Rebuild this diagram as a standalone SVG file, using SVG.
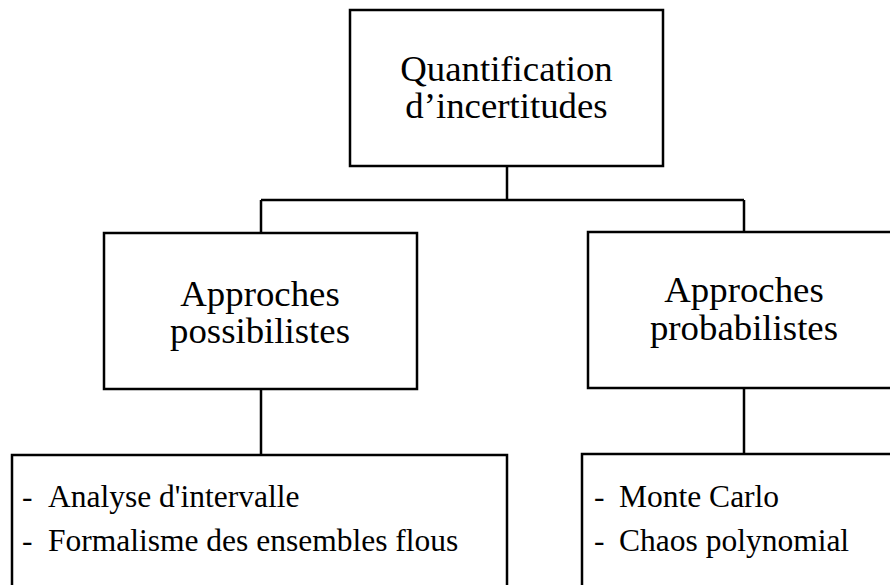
<svg xmlns="http://www.w3.org/2000/svg" width="890" height="585" viewBox="0 0 890 585">
<style>
.box{fill:#fff;stroke:#000;stroke-width:2.5}
.con{fill:none;stroke:#000;stroke-width:2.5}
.t{font-family:"Liberation Serif","Times New Roman",serif;fill:#000}
.big{font-size:36.8px;text-anchor:middle}
.sm{font-size:31.5px}
</style>
<rect width="890" height="585" fill="#fff"/>
<g id="connectors">
<path class="con" d="M507,166 V200 M261,200 H744 M261,200 V233 M744,200 V232 M261,389 V455 M744,388 V454"/>
</g>
<g id="root">
<rect class="box" x="350" y="10" width="313" height="156"/>
<text class="t big" x="506.5" y="81">Quantification</text>
<text class="t big" x="506.5" y="118">d’incertitudes</text>
</g>
<g id="possibilistes">
<rect class="box" x="104" y="233" width="313" height="156"/>
<text class="t big" x="260" y="306">Approches</text>
<text class="t big" x="260" y="343">possibilistes</text>
</g>
<g id="probabilistes">
<rect class="box" x="588" y="232" width="320" height="156"/>
<text class="t big" x="744" y="302">Approches</text>
<text class="t big" x="744" y="340">probabilistes</text>
</g>
<g id="methodes-possibilistes">
<rect class="box" x="12" y="455" width="495" height="150"/>
<text class="t sm" y="507"><tspan x="22">-</tspan><tspan x="48">Analyse d'intervalle</tspan></text>
<text class="t sm" y="551"><tspan x="22">-</tspan><tspan x="48">Formalisme des ensembles flous</tspan></text>
</g>
<g id="methodes-probabilistes">
<rect class="box" x="582" y="454" width="326" height="151"/>
<text class="t sm" y="507"><tspan x="594">-</tspan><tspan x="619">Monte Carlo</tspan></text>
<text class="t sm" y="551"><tspan x="594">-</tspan><tspan x="619">Chaos polynomial</tspan></text>
</g>
</svg>
